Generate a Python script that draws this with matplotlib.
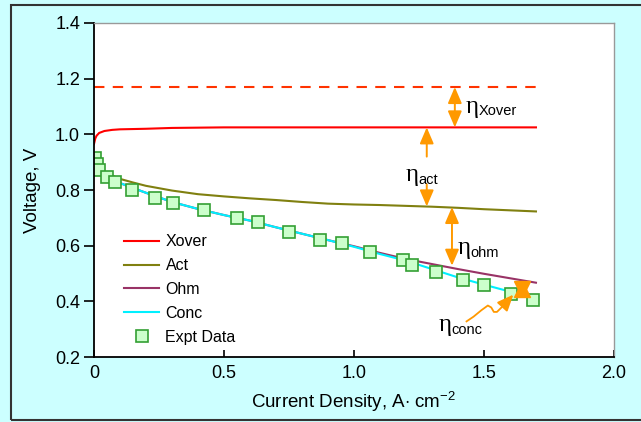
"""
Fuel cell polarisation curve with the loss terms (crossover, activation,
ohmic, concentration) marked against the experimental data.
"""

# ---------- Imports ---------- #
import matplotlib
matplotlib.use("Agg")
import matplotlib.pyplot as plt
from matplotlib.patches import Rectangle

# ---------- Data ---------- #
ocv_x = [0.0, 1.7]
ocv_y = [1.17, 1.17]

xover_x = [0.0, 0.005, 0.01, 0.02, 0.04, 0.07, 0.1, 0.2, 0.3, 0.5, 1.0, 1.5, 1.7]
xover_y = [0.965, 0.985, 0.995, 1.005, 1.012, 1.016, 1.018, 1.02, 1.023, 1.025, 1.025, 1.025, 1.025]

act_x = [0.0, 0.02, 0.05, 0.1, 0.15, 0.2, 0.3, 0.4, 0.5, 0.6, 0.7, 0.8, 0.9,
         1.0, 1.1, 1.2, 1.3, 1.4, 1.5, 1.6, 1.7]
act_y = [0.91, 0.88, 0.86, 0.84, 0.827, 0.815, 0.798, 0.785, 0.777, 0.77, 0.764, 0.757, 0.751,
         0.748, 0.746, 0.743, 0.74, 0.736, 0.731, 0.727, 0.723]

conc_x = [0.0, 0.03, 0.06, 0.1, 0.15, 0.2, 0.3, 0.4, 0.5, 0.6, 0.7, 0.8, 0.9,
          1.0, 1.1, 1.2, 1.3, 1.4, 1.5, 1.6, 1.65, 1.7]
conc_y = [0.92, 0.87, 0.845, 0.825, 0.807, 0.79, 0.757, 0.732, 0.71, 0.69, 0.666, 0.643, 0.62,
          0.596, 0.57, 0.546, 0.516, 0.486, 0.46, 0.435, 0.422, 0.412]

ohm_x = [0.0, 0.03, 0.06, 0.1, 0.15, 0.2, 0.3, 0.4, 0.5, 0.6, 0.7, 0.8, 0.9,
         1.0, 1.1, 1.2, 1.3, 1.4, 1.5, 1.6, 1.7]
ohm_y = [0.92, 0.87, 0.845, 0.825, 0.807, 0.79, 0.757, 0.732, 0.71, 0.69, 0.666, 0.643, 0.62,
         0.598, 0.574, 0.552, 0.534, 0.516, 0.499, 0.483, 0.467]

expt_x = [0.004, 0.01, 0.02, 0.05, 0.08, 0.145, 0.235, 0.305, 0.425, 0.55, 0.63, 0.75, 0.87,
          0.955, 1.06, 1.19, 1.225, 1.315, 1.42, 1.50, 1.605, 1.69]
expt_y = [0.915, 0.895, 0.872, 0.845, 0.828, 0.80, 0.77, 0.755, 0.728, 0.70, 0.684, 0.65, 0.622,
          0.608, 0.579, 0.547, 0.529, 0.507, 0.478, 0.46, 0.428, 0.404]

ORANGE = "#ff9900"

plt.rcParams['font.family'] = ['Liberation Sans', 'DejaVu Sans']
plt.rcParams['mathtext.fontset'] = 'custom'
plt.rcParams['mathtext.rm'] = 'Liberation Sans'

fig = plt.figure(figsize=(6.41, 4.22), dpi=100, facecolor="#ccffff")
fig.patches.append(Rectangle((0.017, 0.005), 1.2, 0.983, transform=fig.transFigure,
                             fill=False, edgecolor="#333333", lw=1.5))
ax = fig.add_axes([0.1466, 0.154, 0.8112, 0.7915])

# Curves
ax.plot(ocv_x, ocv_y, color="#ff3300", lw=1.5, linestyle=(0, (5, 4)))
ax.plot(xover_x, xover_y, color="#ff0000", lw=1.5, label="Xover")
ax.plot(act_x, act_y, color="#808010", lw=1.5, label="Act")
ax.plot(ohm_x, ohm_y, color="#993366", lw=1.5, label="Ohm")
ax.plot(conc_x, conc_y, color="#00f0ff", lw=1.5, label="Conc")
ax.plot(expt_x, expt_y, linestyle="none", marker="s", markersize=9,
        markerfacecolor="#ccffcc", markeredgecolor="#33a033", markeredgewidth=1.2,
        label="Expt Data")

# ----- Loss annotations ----- #
def arrow(x0, y0, x1, y1, style='<|-|>'):
    ax.annotate("", xy=(x1, y1), xytext=(x0, y0),
                arrowprops=dict(arrowstyle=style + ",head_length=0.7,head_width=0.3",
                                mutation_scale=14, color=ORANGE, lw=1.4,
                                shrinkA=0, shrinkB=0))

def eta(x, y, sub):
    ax.text(x, y, "η", family='Liberation Serif', fontsize=18, va='center', ha='left')
    ax.annotate(sub, xy=(x, y), xytext=(9, -3.5), textcoords='offset points',
                fontsize=10.5, va='center', ha='left')

arrow(1.388, 1.17, 1.388, 1.025)
eta(1.43, 1.10, "Xover")

arrow(1.28, 0.92, 1.28, 1.025, style='-|>')
eta(1.20, 0.855, "act")
arrow(1.28, 0.82, 1.28, 0.741, style='-|>')

arrow(1.377, 0.739, 1.377, 0.528)
eta(1.40, 0.59, "ohm")

# small concentration gap, drawn as two overlapping heads
ax.plot([1.645], [0.445], marker='^', markersize=12, color=ORANGE, linestyle='none')
ax.plot([1.645], [0.445], marker='v', markersize=12, color=ORANGE, linestyle='none')
ax.plot([1.433, 1.46, 1.49, 1.515, 1.528, 1.538, 1.55, 1.575],
        [0.328, 0.345, 0.368, 0.385, 0.378, 0.362, 0.362, 0.385], color=ORANGE, lw=1.3)
arrow(1.575, 0.385, 1.613, 0.424, style='-|>')
eta(1.325, 0.315, "conc")

# ----- Axes ----- #
ax.set_xlim(0, 2.0)
ax.set_ylim(0.2, 1.4)
ax.set_xticks([0, 0.5, 1.0, 1.5, 2.0])
ax.set_xticklabels(["0", "0.5", "1.0", "1.5", "2.0"])
ax.set_yticks([0.2, 0.4, 0.6, 0.8, 1.0, 1.2, 1.4])
ax.tick_params(axis='y', direction='out', length=7, width=1.2, labelsize=13, pad=3)
ax.tick_params(axis='x', direction='in', length=5, width=1.2, labelsize=13, pad=6)
for side in ['left', 'bottom']:
    ax.spines[side].set_linewidth(1.3)
    ax.spines[side].set_color("black")
for side in ['top', 'right']:
    ax.spines[side].set_color("#999999")
    ax.spines[side].set_linewidth(1.0)

ax.set_xlabel(r"Current Density, A$\cdot$ cm$^{-2}$", fontsize=13.5, labelpad=5)
ax.set_ylabel("Voltage, V", fontsize=13.5, labelpad=10)

ax.legend(loc='upper left', bbox_to_anchor=(0.03, 0.41), frameon=False,
          fontsize=11.5, handlelength=2.2, handletextpad=0.4, labelspacing=0.55)

fig.savefig("out.png", dpi=100, facecolor=fig.get_facecolor())
